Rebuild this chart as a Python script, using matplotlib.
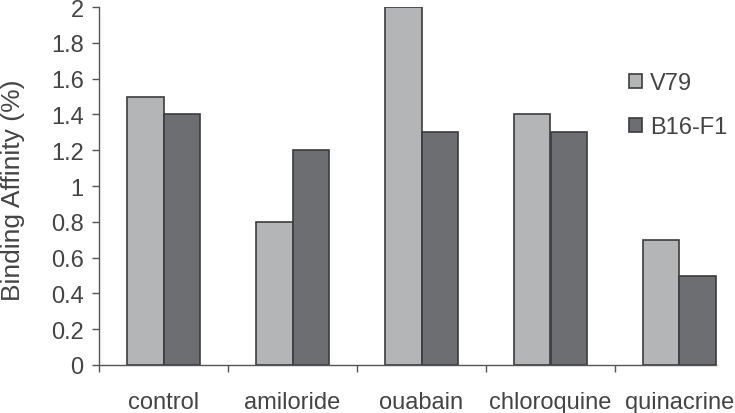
import matplotlib
matplotlib.use("Agg")
import matplotlib.pyplot as plt
import numpy as np

plt.rcParams['font.family'] = ['Liberation Sans', 'DejaVu Sans']

# data
treatments = ["control", "amiloride", "ouabain", "chloroquine", "quinacrine"]
v79 = [1.5, 0.8, 2.0, 1.4, 0.7]
b16 = [1.4, 1.2, 1.3, 1.3, 0.5]
series_names = ["V79", "B16-F1"]
y_ticks = [0, 0.2, 0.4, 0.6, 0.8, 1, 1.2, 1.4, 1.6, 1.8, 2]

W, H = 735, 414
fig = plt.figure(figsize=(W / 100, H / 100), dpi=100)
ax = fig.add_axes([99 / W, 48 / H, 645 / W, 358 / H])

txt = "#444444"
edge = "#3c3c3c"
fs = 17
x = np.arange(len(treatments))
bw = 0.283
ax.bar(x - bw / 2, v79, bw, color="#b4b5b7", edgecolor=edge, linewidth=1.2, label=series_names[0])
ax.bar(x + bw / 2, b16, bw, color="#6d6e72", edgecolor=edge, linewidth=1.2, label=series_names[1])

ax.set_xlim(-0.5, 4.5)
ax.set_ylim(0, 2)
for s in ["top", "right"]:
    ax.spines[s].set_visible(False)
for s in ["left", "bottom"]:
    ax.spines[s].set_color("#555555")
    ax.spines[s].set_linewidth(1.0)
ax.spines["bottom"].set_bounds(-0.5, 4 + bw)

ax.set_yticks(y_ticks)
ax.set_yticklabels([f"{t:g}" for t in y_ticks])
ax.tick_params(axis="y", length=5, width=1, color="#555555", pad=6, labelsize=fs, labelcolor=txt)

ax.set_xticks(np.arange(-0.5, 4, 1))
ax.set_xticklabels([])
ax.set_xticks(x, minor=True)
ax.set_xticklabels(treatments, minor=True)
ax.tick_params(axis="x", which="major", length=5, width=1, color="#555555")
ax.tick_params(axis="x", which="minor", length=0, pad=19, labelsize=fs, labelcolor=txt)

ax.set_ylabel("Binding Affinity (%)", fontsize=19, color=txt)
ax.yaxis.set_label_coords(-74 / 645, 0.49)

ax.legend(loc="upper left", bbox_to_anchor=(629 / W, 1 - 73 / H), bbox_transform=fig.transFigure,
          frameon=False, fontsize=fs, handlelength=0.55, handleheight=0.55, handletextpad=0.35,
          labelspacing=0.95, borderpad=0, borderaxespad=0, labelcolor=txt)

fig.savefig("out.png", dpi=100)
